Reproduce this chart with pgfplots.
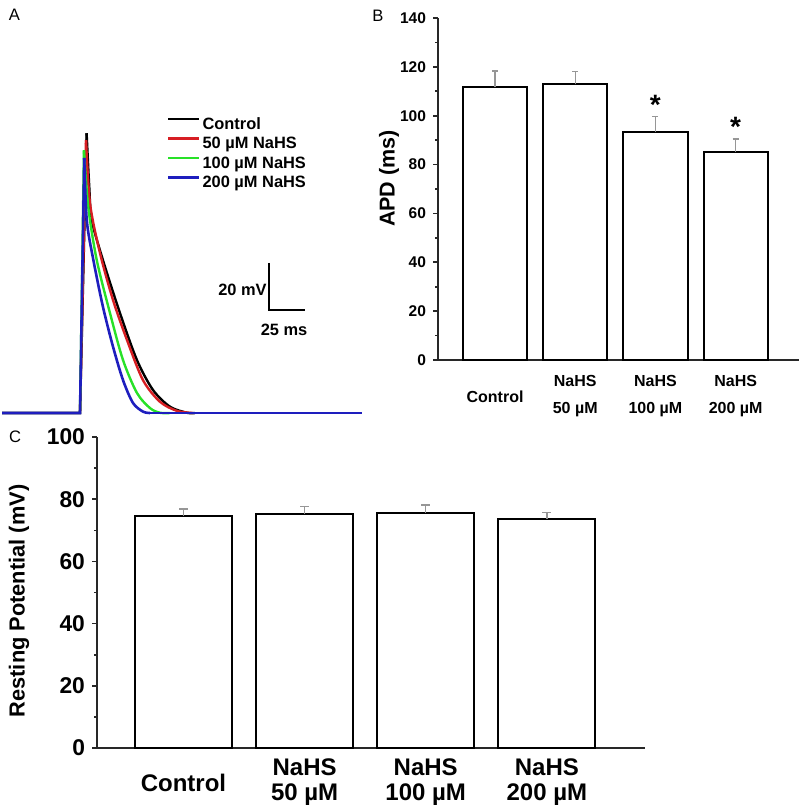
\documentclass[border=0pt]{standalone}
\usepackage{fontspec}
\setmainfont{Liberation Sans}
\usepackage{pgfplots}
\pgfplotsset{compat=1.18}
\definecolor{cred}{RGB}{215,30,35}
\definecolor{cgreen}{RGB}{40,225,40}
\definecolor{cblue}{RGB}{30,30,190}
\definecolor{axcol}{RGB}{40,40,40}
\definecolor{errcol}{RGB}{150,150,150}
\newcommand{\fs}[2]{\fontsize{#1}{#2}\selectfont}

\begin{document}
\begin{tikzpicture}
\useasboundingbox (0,0) rectangle (400pt,-403.5pt);

% ---------------- Panel A ----------------
\begin{axis}[at={(0pt,-210pt)}, anchor=south west, scale only axis,
  width=200pt, height=160pt,
  xmin=-54.5, xmax=218, ymin=-78, ymax=59.16,
  axis lines=none, clip=false,
  legend image code/.code={\draw[#1] (0pt,2.9pt) -- (15.5pt,2.9pt);},
  legend cell align=left,
  legend style={at={(0.4175,0.946)}, anchor=north west, draw=none, fill=none,
    inner sep=0pt, outer sep=0pt, font=\bfseries\fs{8.2}{9.5},
    row sep=2.25pt, column sep=1pt,
    nodes={inner sep=0pt, text height=6pt, text depth=1.5pt}},
]
% Control
\addplot[black, line width=1.2pt, forget plot] coordinates {(-53.1,-75) (0,-75) (4.5,44.9)};
\addplot[black, line width=1.2pt, smooth, tension=0.5] coordinates {
 (4.5,44.9) (6.3,22.0) (8.0,7.7) (15.6,-9.4) (27.2,-32.1) (38.8,-52.3)
 (49.7,-65.1) (61.3,-72.3) (72.9,-74.9) (78.3,-75)};
\addlegendentry{Control}
\addplot[black, line width=1.2pt, forget plot] coordinates {(78.3,-75) (191.8,-75)};
% 50 uM
\addplot[cred, line width=1.2pt, forget plot] coordinates {(-53.1,-75) (0,-75) (4.1,42.0)};
\addplot[cred, line width=1.2pt, smooth, tension=0.5] coordinates {
 (4.1,42.0) (6.8,15.0) (13.6,-6.4) (22.5,-26.6) (32.0,-43.7) (42.9,-60.9)
 (54.5,-70.2) (66.1,-74.1) (77.0,-75)};
\addlegendentry{50 µM NaHS}
\addplot[cred, line width=1.2pt, forget plot] coordinates {(77.0,-75) (191.8,-75)};
% 100 uM
\addplot[cgreen, line width=1.2pt, forget plot] coordinates {(-53.1,-75) (0,-75) (2.7,37.7)};
\addplot[cgreen, line width=1.2pt, smooth, tension=0.5] coordinates {
 (2.7,37.7) (5.6,13.4) (11.4,-9.4) (20.4,-32.1) (29.3,-52.3) (38.8,-66.4)
 (47.7,-72.9) (54.5,-74.9) (61.3,-75)};
\addlegendentry{100 µM NaHS}
\addplot[cgreen, line width=1.2pt, forget plot] coordinates {(61.3,-75) (191.8,-75)};
% 200 uM
\addplot[cblue, line width=1.3pt, forget plot] coordinates {(-53.1,-75) (0,-75) (2.9,34.3)};
\addplot[cblue, line width=1.3pt, smooth, tension=0.5] coordinates {
 (2.9,34.3) (4.6,7.7) (9.1,-9.4) (15.6,-29.4) (22.5,-46.6) (29.3,-60.9)
 (36.1,-70.7) (42.9,-74.4) (47.7,-75)};
\addlegendentry{200 µM NaHS}
\addplot[cblue, line width=1.3pt, forget plot] coordinates {(47.7,-75) (191.8,-75)};
% scale bar
\addplot[black, line width=1pt, forget plot] coordinates {(128.6,-10.7) (128.6,-30.7) (153.6,-30.7)};
\node[anchor=east, inner sep=0pt, font=\bfseries\fs{8.2}{9.5}] at (axis cs:127.4,-22.3) {20 mV};
\node[anchor=center, inner sep=0pt, font=\bfseries\fs{8.2}{9.5}] at (axis cs:139,-39.2) {25 ms};
\end{axis}

% ---------------- Panel B ----------------
\begin{axis}[at={(219pt,-180pt)}, anchor=south west, scale only axis,
  width=180.5pt, height=171pt,
  xmin=-0.711, xmax=3.79, ymin=0, ymax=140,
  axis x line*=bottom, axis y line*=left,
  axis line style={axcol, line width=0.9pt},
  tick align=outside, major tick length=2.5pt, minor tick length=1.5pt,
  every tick/.style={axcol, line width=0.8pt},
  ytick={0,20,...,140}, minor y tick num=1,
  xtick={0,1,2,3}, xtick style={draw=none},
  xticklabels={Control,{NaHS\\50 µM},{NaHS\\100 µM},{NaHS\\200 µM}},
  xticklabel style={anchor=center, yshift=-15.75pt, align=center, font=\bfseries\fs{8}{13.5}},
  yticklabel style={font=\bfseries\fs{7.75}{9}},
  /pgf/number format/assume math mode=true,
  ylabel={APD (ms)},
  ylabel style={at={(axis description cs:-0.1357,0.5307)}, anchor=center, font=\bfseries\fs{10.75}{12}},
  clip=false,
]
\addplot[ybar, bar width=0.8, fill=white, draw=black, line width=1pt,
  error bars/.cd, y dir=plus, y explicit,
  error bar style={errcol, line width=0.7pt},
  error mark options={errcol, rotate=90, line width=0.7pt, mark size=1.5pt}]
  coordinates {(0,111.7) +- (0,6.6) (1,112.8) +- (0,5.2) (2,93.5) +- (0,6.2) (3,85.3) +- (0,5.1)};
\node[anchor=base, inner sep=0pt, font=\bfseries\fs{14}{15}] at (axis cs:2,100.6) {*};
\node[anchor=base, inner sep=0pt, font=\bfseries\fs{14}{15}] at (axis cs:3,91.3) {*};
\end{axis}

% ---------------- Panel C ----------------
\begin{axis}[at={(48.5pt,-374pt)}, anchor=south west, scale only axis,
  width=274pt, height=155.5pt,
  xmin=-0.714, xmax=3.81, ymin=0, ymax=100,
  axis x line*=bottom, axis y line*=left,
  axis line style={axcol, line width=0.9pt},
  tick align=outside, major tick length=2.5pt, minor tick length=1.5pt,
  every tick/.style={axcol, line width=0.8pt},
  ytick={0,20,...,100}, minor y tick num=1,
  xtick={0,1,2,3}, xtick style={draw=none},
  xticklabels={Control,{NaHS\\50 µM},{NaHS\\100 µM},{NaHS\\200 µM}},
  xticklabel style={anchor=center, yshift=-14.75pt, align=center, font=\bfseries\fs{12}{12.5}},
  yticklabel style={font=\bfseries\fs{11.4}{13}},
  /pgf/number format/assume math mode=true,
  ylabel={Resting Potential (mV)},
  ylabel style={at={(axis description cs:-0.1423,0.4727)}, anchor=center, font=\bfseries\fs{10.9}{12}},
  clip=false,
]
\addplot[ybar, bar width=0.8, fill=white, draw=black, line width=1pt,
  error bars/.cd, y dir=plus, y explicit,
  error bar style={errcol, line width=0.7pt},
  error mark options={errcol, rotate=90, line width=0.7pt, mark size=2.2pt}]
  coordinates {(0,74.6) +- (0,2.2) (1,75.3) +- (0,2.4) (2,75.6) +- (0,2.5) (3,73.6) +- (0,2.2)};
\end{axis}

% panel letters
\node[font=\fs{8.3}{10}, inner sep=0pt] at (7.25pt,-7.5pt) {A};
\node[font=\fs{8.3}{10}, inner sep=0pt] at (189pt,-7.75pt) {B};
\node[font=\fs{8.3}{10}, inner sep=0pt] at (7.5pt,-218.5pt) {C};
\end{tikzpicture}
\end{document}
